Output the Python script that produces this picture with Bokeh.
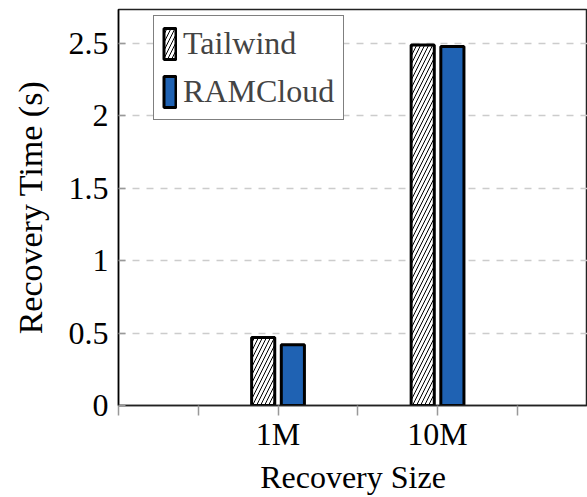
from bokeh.plotting import figure
from bokeh.models import Legend, LegendItem, FixedTicker, ColumnDataSource, Range1d
from bokeh.embed import file_html
from bokeh.resources import INLINE

# ---- data ----
categories = ["1M", "10M"]
tailwind = [0.47, 2.49]
ramcloud = [0.42, 2.48]
series_names = ["Tailwind", "RAMCloud"]
y_ticks = [0, 0.5, 1, 1.5, 2, 2.5]
y_tick_labels = ["0", "0.5", "1", "1.5", "2", "2.5"]
x_ticks = [0, 0.5, 1, 1.5, 2, 2.5]

FONT = "Liberation Serif"
FS = "32px"
BLUE = "#1F62B3"

cat_pos = [i + 1 for i in range(len(categories))]
offset = 0.093
bar_w = 0.145

src_t = ColumnDataSource(dict(x=[c - offset for c in cat_pos], top=tailwind))
src_r = ColumnDataSource(dict(x=[c + offset for c in cat_pos], top=ramcloud))

p = figure(
    frame_width=469, frame_height=396,
    min_border_left=118, min_border_right=0, min_border_top=9, min_border_bottom=92,
    x_range=Range1d(0, 2.94), y_range=Range1d(0, 2.735),
    output_backend="svg", toolbar_location=None,
)
p.background_fill_color = "white"
p.border_fill_color = "white"
p.outline_line_color = "#222222"
p.outline_line_width = 1.5

r1 = p.vbar(x="x", top="top", width=bar_w, source=src_t, fill_color="white",
            line_color="black", line_width=3, hatch_pattern="/",
            hatch_color="black", hatch_scale=8, hatch_weight=1)
r2 = p.vbar(x="x", top="top", width=bar_w, source=src_r, fill_color=BLUE,
            line_color="black", line_width=3)

# x axis
xa = p.xaxis[0]
xa.ticker = FixedTicker(ticks=x_ticks)
xa.major_label_overrides = {t: "" for t in x_ticks}
for pos, c in zip(cat_pos, categories):
    xa.major_label_overrides[pos] = c
xa.minor_tick_line_color = None
xa.major_tick_in = 0
xa.major_tick_out = 10
xa.major_tick_line_color = "#999999"
xa.major_tick_line_width = 1.5
xa.axis_line_color = "#222222"
xa.axis_line_width = 1.5
xa.major_label_text_font = FONT
xa.major_label_text_font_size = FS
xa.major_label_text_color = "black"
xa.major_label_standoff = 0
xa.axis_label = "Recovery Size"
xa.axis_label_text_font = FONT
xa.axis_label_text_font_size = FS
xa.axis_label_text_font_style = "normal"
xa.axis_label_text_color = "black"
xa.axis_label_standoff = 4

# y axis
ya = p.yaxis[0]
ya.ticker = FixedTicker(ticks=y_ticks)
ya.major_label_overrides = {t: l for t, l in zip(y_ticks, y_tick_labels)}
ya.minor_tick_line_color = None
ya.major_tick_in = 7
ya.major_tick_out = 0
ya.major_tick_line_color = "#999999"
ya.major_tick_line_width = 1.5
ya.axis_line_color = "black"
ya.axis_line_width = 1.5
ya.major_label_text_font = FONT
ya.major_label_text_font_size = FS
ya.major_label_text_color = "black"
ya.major_label_standoff = 10
ya.axis_label = "Recovery Time (s)"
ya.axis_label_text_font = FONT
ya.axis_label_text_font_size = "34px"
ya.axis_label_text_font_style = "normal"
ya.axis_label_text_color = "black"
ya.axis_label_standoff = 17

# grid
p.xgrid.grid_line_color = None
p.ygrid.ticker = FixedTicker(ticks=y_ticks[1:])
p.ygrid.grid_line_color = "#cccccc"
p.ygrid.grid_line_dash = "7 7"
p.ygrid.grid_line_width = 1.5

legend = Legend(
    items=[LegendItem(label=series_names[0], renderers=[r1]),
           LegendItem(label=series_names[1], renderers=[r2])],
    location=(35, 285), margin=0, padding=8, spacing=9,
    glyph_width=15, glyph_height=39, label_standoff=6, label_width=152,
    label_text_font=FONT, label_text_font_size=FS, label_text_baseline="hanging",
    border_line_color="black", border_line_width=1,
    background_fill_color="white", background_fill_alpha=1,
)
p.add_layout(legend, "center")

open("out.html", "w").write(file_html(p, INLINE))
